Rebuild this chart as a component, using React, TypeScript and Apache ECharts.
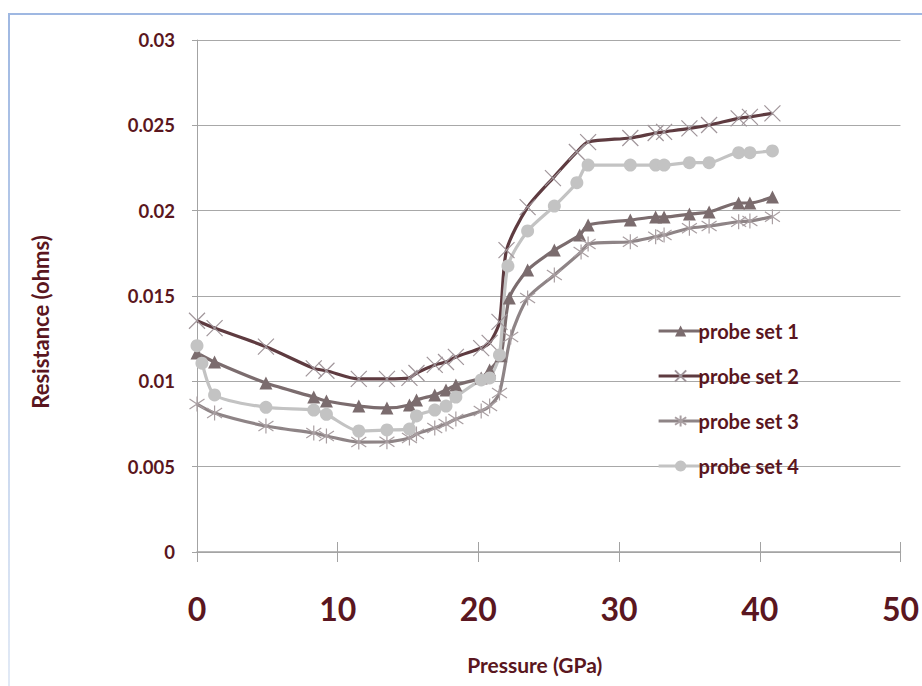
import React, { useEffect, useRef } from "react";
import * as echarts from "echarts";

const seriesNames = ["probe set 1", "probe set 2", "probe set 3", "probe set 4"];

const p1X = [0, 1.25, 4.9, 8.3, 9.2, 11.5, 13.5, 15.1, 15.6, 16.9, 17.7, 18.4, 20.2, 20.8, 21.6, 22.2, 23.5, 25.4, 27.2, 27.8, 30.8, 32.6, 33.2, 35.0, 36.4, 38.5, 39.3, 40.9];
const p1Y = [0.01166, 0.01113, 0.0099, 0.00908, 0.00885, 0.00855, 0.00844, 0.00861, 0.00891, 0.0092, 0.00949, 0.00979, 0.0102, 0.01066, 0.0115, 0.01488, 0.01652, 0.01769, 0.01857, 0.01916, 0.01945, 0.01963, 0.01963, 0.0198, 0.01992, 0.02045, 0.02045, 0.0208];

const p2X = [0, 1.25, 4.9, 8.3, 9.2, 11.5, 13.5, 15.1, 15.6, 16.9, 17.7, 18.4, 20.2, 20.8, 21.5, 22.0, 23.5, 25.3, 27.0, 27.8, 30.8, 32.6, 33.2, 35.0, 36.4, 38.5, 39.3, 40.9];
const p2Y = [0.01355, 0.01312, 0.01203, 0.01076, 0.01062, 0.01014, 0.01014, 0.0102, 0.01049, 0.01096, 0.01113, 0.01143, 0.01195, 0.01225, 0.01348, 0.01769, 0.02021, 0.02191, 0.02344, 0.02402, 0.02426, 0.02455, 0.02462, 0.02482, 0.02502, 0.02541, 0.0255, 0.0257];

const p3X = [0, 1.25, 4.9, 8.3, 9.2, 11.5, 13.5, 15.1, 15.6, 16.9, 17.7, 18.4, 20.2, 20.8, 21.5, 22.3, 23.5, 25.4, 27.3, 27.8, 30.8, 32.6, 33.2, 35.0, 36.4, 38.5, 39.3, 40.9];
const p3Y = [0.00867, 0.00814, 0.00738, 0.00697, 0.0068, 0.00644, 0.00646, 0.00668, 0.00691, 0.00727, 0.0075, 0.00779, 0.00826, 0.00855, 0.00932, 0.0126, 0.01488, 0.01623, 0.01758, 0.01805, 0.01818, 0.01847, 0.01857, 0.01897, 0.0191, 0.01935, 0.01939, 0.01965];

const p4X = [0, 0.35, 1.25, 4.9, 8.3, 9.2, 11.5, 13.5, 15.1, 15.6, 16.9, 17.7, 18.4, 20.2, 20.8, 21.5, 22.1, 23.5, 25.4, 27.0, 27.8, 30.8, 32.6, 33.2, 35.0, 36.4, 38.5, 39.3, 40.9];
const p4Y = [0.01209, 0.01106, 0.0092, 0.00848, 0.00832, 0.00807, 0.00709, 0.00715, 0.0072, 0.00797, 0.00832, 0.00855, 0.00908, 0.01008, 0.0102, 0.01154, 0.01676, 0.01881, 0.02027, 0.02164, 0.02267, 0.02267, 0.02267, 0.02267, 0.02281, 0.02281, 0.0234, 0.0234, 0.0235];

const pair = (xs: number[], ys: number[]) => xs.map((x, i) => [x, ys[i]]);

const TEXT = "#5a1620";
const FONT = "Lato, 'Open Sans', sans-serif";

export default function App() {
  const ref = useRef<HTMLDivElement>(null);
  useEffect(() => {
    if (!ref.current) return;
    const chart = echarts.init(ref.current, undefined, { renderer: "svg" });
    const lineColors = ["#7b6c6e", "#5e3b40", "#8e8486", "#c3c3c3"];
    const markerColors = ["#7b6c6e", "#a0959a", "#a99fa2", "#c3c3c3"];
    const symbols = [
      "triangle",
      "path://M0,0L10,10M10,0L0,10",
      "path://M0,1L10,9M10,1L0,9M5,-1L5,11",
      "circle",
    ];
    const sizes = [13, 16, 15, 13];
    const datas = [pair(p1X, p1Y), pair(p2X, p2Y), pair(p3X, p3Y), pair(p4X, p4Y)];
    const series = datas.map((d, i) => ({
      name: seriesNames[i],
      type: "line",
      data: d,
      smooth: 0.25,
      symbol: symbols[i],
      symbolSize: sizes[i],
      showAllSymbol: true,
      lineStyle: { color: lineColors[i], width: 3.2 },
      itemStyle:
        i === 1 || i === 2
          ? { color: "rgba(0,0,0,0)", borderColor: markerColors[i], borderWidth: 1.2 }
          : { color: markerColors[i], borderWidth: 0 },
      emphasis: { disabled: true },
    }));
    chart.setOption({
      animation: false,
      backgroundColor: "#ffffff",
      textStyle: { fontFamily: FONT },
      graphic: [
        { type: "rect", shape: { x: 8, y: 13, width: 914, height: 2 }, style: { fill: "#9fb8e2" } },
        {
          type: "rect",
          shape: { x: 8, y: 13, width: 2, height: 673 },
          style: {
            fill: new echarts.graphic.LinearGradient(0, 0, 0, 1, [
              { offset: 0, color: "#9fb8e2" },
              { offset: 1, color: "#e2eaf6" },
            ]),
          },
        },
      ],
      grid: { left: 197, right: 17, top: 40, bottom: 134 },
      legend: {
        orient: "vertical",
        left: 652,
        top: 314,
        itemWidth: 44,
        itemHeight: 14,
        itemGap: 21,
        data: seriesNames,
        lineStyle: { width: 3.2 },
        textStyle: { color: TEXT, fontSize: 20, fontWeight: "bold", fontFamily: FONT, lineHeight: 24, padding: [0, 0, 0, -9] },
      },
      xAxis: [
        {
          type: "value",
          min: 0,
          max: 50,
          interval: 10,
          name: "Pressure (GPa)",
          nameLocation: "middle",
          nameGap: 102,
          nameTextStyle: { color: TEXT, fontSize: 21, fontWeight: "bold", fontFamily: FONT, padding: [0, 28, 0, 0] },
          axisLine: { show: true, lineStyle: { color: "#a3a3a3", width: 1.5 } },
          axisTick: { show: true, length: 10, lineStyle: { color: "#a3a3a3" } },
          axisLabel: { color: TEXT, fontSize: 32, fontWeight: "bold", margin: 40, fontFamily: FONT, formatter: (v: number) => String(v) },
          splitLine: { show: false },
        },
        {
          type: "value",
          min: 0,
          max: 50,
          interval: 10,
          position: "bottom",
          axisLine: { show: false },
          axisTick: { show: true, inside: true, length: 10, lineStyle: { color: "#a3a3a3" } },
          axisLabel: { show: false },
          splitLine: { show: false },
        },
      ],
      yAxis: {
        type: "value",
        min: 0,
        max: 0.03,
        interval: 0.005,
        name: "Resistance (ohms)",
        nameLocation: "middle",
        nameGap: 146,
        nameTextStyle: { color: TEXT, fontSize: 22, fontWeight: "bold", fontFamily: FONT, padding: [0, 52, 0, 0] },
        axisLine: { show: true, lineStyle: { color: "#a3a3a3", width: 1 } },
        axisTick: { show: true, length: 5, lineStyle: { color: "#a3a3a3" } },
        axisLabel: { color: TEXT, fontSize: 18.5, fontWeight: "bold", margin: 22, fontFamily: FONT, formatter: (v: number) => String(Number(v.toFixed(3))) },
        splitLine: { show: true, lineStyle: { color: "#a8a8a8", width: 1 } },
      },
      series,
    });
    return () => chart.dispose();
  }, []);
  return <div ref={ref} style={{ position: "absolute", left: 0, top: 0, width: 922, height: 686 }} />;
}
